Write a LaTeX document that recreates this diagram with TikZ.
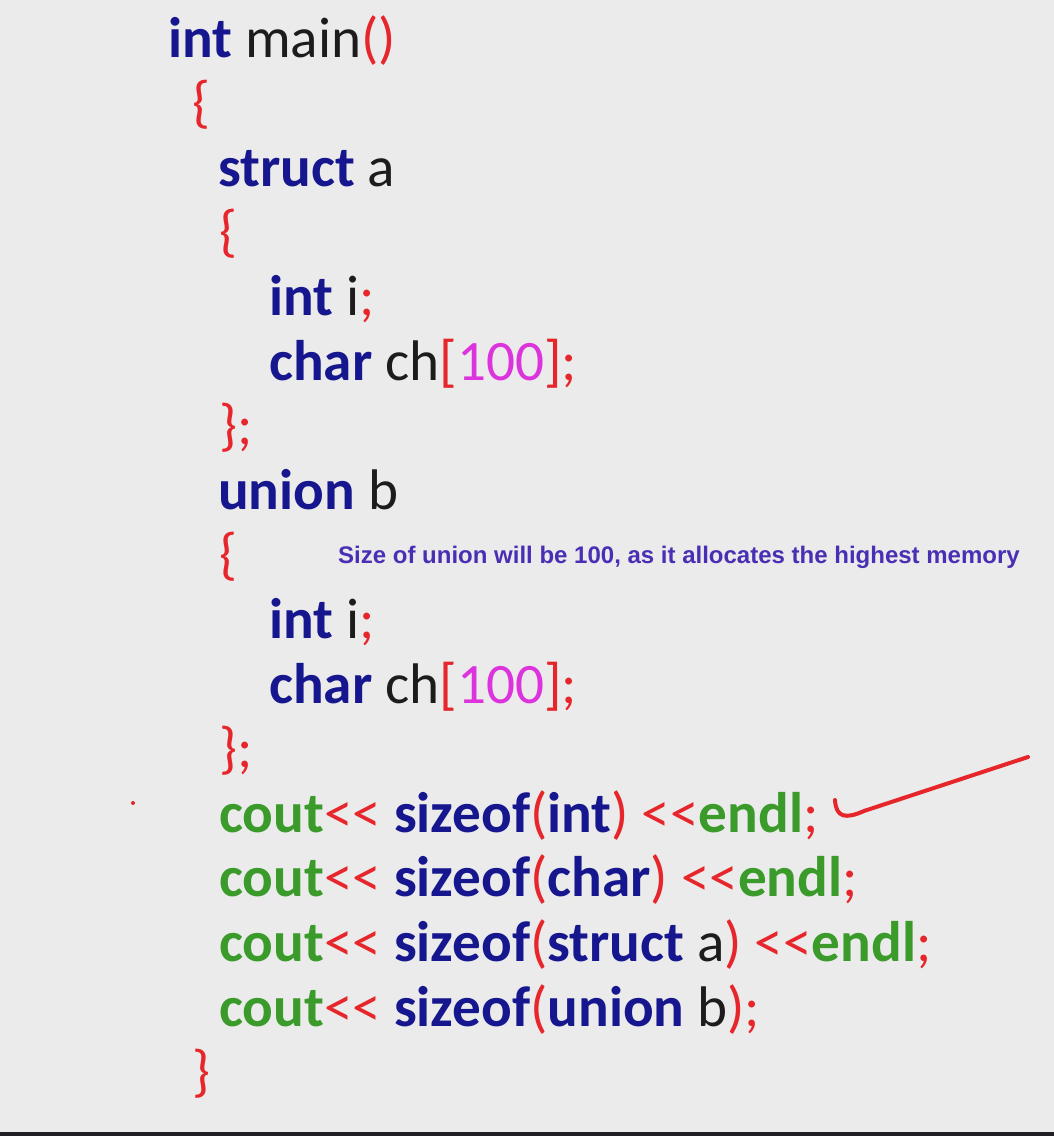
\documentclass[tikz,border=0pt]{standalone}
\usepackage{fontspec}
\setmainfont{Carlito}
\newfontfamily\annfont{Liberation Sans}
\definecolor{bgc}{HTML}{EBEBEB}
\definecolor{kwc}{HTML}{16168E}
\definecolor{idc}{HTML}{1C1C1C}
\definecolor{rdc}{HTML}{E6262A}
\definecolor{mgc}{HTML}{DD33DD}
\definecolor{grc}{HTML}{3A9A2A}
\definecolor{anc}{HTML}{4A2FB5}
\definecolor{barc}{HTML}{1E2023}
\newcommand{\kwd}[1]{{\bfseries\color{kwc}#1}}
\newcommand{\idt}[1]{{\color{idc}#1}}
\newcommand{\rdc}[1]{{\color{rdc}#1}}
\newcommand{\mgt}[1]{{\color{mgc}#1}}
\newcommand{\grn}[1]{{\bfseries\color{grc}#1}}
\newcommand{\shl}{\rdc{<\kern0pt<}}
\begin{document}
\begin{tikzpicture}[x=1pt,y=-1pt,
  code/.style={anchor=base west, inner sep=0pt, font=\fontsize{57.2}{60}\selectfont},
  note/.style={anchor=base west, inner sep=0pt, text=anc, font=\annfont\bfseries\fontsize{24}{30}\selectfont},
  tick/.style={draw=rdc, line width=4pt, line cap=round, line join=round}]
\fill[bgc] (0,0) rectangle (1054,1136);
\useasboundingbox (0,0) rectangle (1054,1136);
\fill[barc] (0,1132) rectangle (1054,1136);
\node[code] (l1) at (168,57) {\kwd{int} \idt{main}\rdc{()}};
\node[code] (l2) at (192,121.6) {\rdc{\{}};
\node[code] (l3) at (218,186.2) {\kwd{struct} \idt{a}};
\node[code] (l4) at (219,250.8) {\rdc{\{}};
\node[code] (l5) at (269,315.4) {\kwd{int} \idt{i}\rdc{;}};
\node[code] (l6) at (269,380) {\kwd{char} \idt{ch}\rdc{[}\mgt{100}\rdc{];}};
\node[code] (l7) at (219,444.6) {\rdc{\};}};
\node[code] (l8) at (218,509.2) {\kwd{union} \idt{b}};
\node[code] (l9) at (219,573.8) {\rdc{\{}};
\node[code] (l10) at (269,638.4) {\kwd{int} \idt{i}\rdc{;}};
\node[code] (l11) at (269,703) {\kwd{char} \idt{ch}\rdc{[}\mgt{100}\rdc{];}};
\node[code] (l12) at (219,767.6) {\rdc{\};}};
\node[code] (l13) at (219,832.2) {\grn{cout}\shl{} \kwd{sizeof}\rdc{(}\kwd{int}\rdc{)} \shl\grn{endl}\rdc{;}};
\node[code] (l14) at (219,896.8) {\grn{cout}\shl{} \kwd{sizeof}\rdc{(}\kwd{char}\rdc{)} \shl\grn{endl}\rdc{;}};
\node[code] (l15) at (219,961.4) {\grn{cout}\shl{} \kwd{sizeof}\rdc{(}\kwd{struct} \idt{a}\rdc{)} \shl\grn{endl}\rdc{;}};
\node[code] (l16) at (219,1026) {\grn{cout}\shl{} \kwd{sizeof}\rdc{(}\kwd{union} \idt{b}\rdc{);}};
\node[code] (l17) at (192,1090.6) {\rdc{\}}};
\node[note] (nt) at (338,563) {Size of union will be 100, as it allocates the highest memory};
\draw[tick] (835,800) .. controls (836,818) and (846,819) .. (864,811) -- (1028,757);
\fill[rdc] (133,803) circle (2);
\end{tikzpicture}
\end{document}
